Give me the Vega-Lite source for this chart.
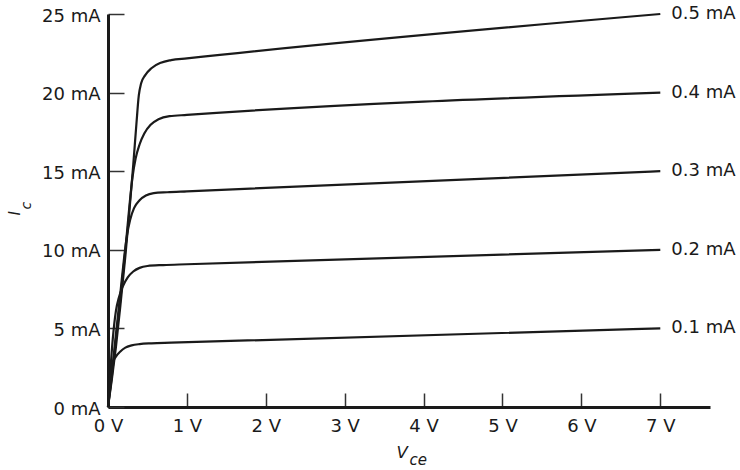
{
  "$schema": "https://vega.github.io/schema/vega-lite/v6.json",
  "width": 602,
  "height": 393,
  "autosize": {"type": "none"},
  "padding": {"left": 108, "top": 14, "right": 30, "bottom": 63},
  "background": "white",
  "config": {"view": {"stroke": null}, "font": "DejaVu Sans"},
  "datasets": {
    "curves": [
      {"ib": "0.5 mA", "v": 0, "i": 0}, {"ib": "0.5 mA", "v": 0.05, "i": 1.8}, {"ib": "0.5 mA", "v": 0.1, "i": 3.8}, {"ib": "0.5 mA", "v": 0.16, "i": 6.6}, {"ib": "0.5 mA", "v": 0.22, "i": 9.6}, {"ib": "0.5 mA", "v": 0.27, "i": 12.4}, {"ib": "0.5 mA", "v": 0.32, "i": 15.4}, {"ib": "0.5 mA", "v": 0.36, "i": 18.0}, {"ib": "0.5 mA", "v": 0.39, "i": 19.8}, {"ib": "0.5 mA", "v": 0.42, "i": 20.6}, {"ib": "0.5 mA", "v": 0.47, "i": 21.1}, {"ib": "0.5 mA", "v": 0.55, "i": 21.55}, {"ib": "0.5 mA", "v": 0.67, "i": 21.9}, {"ib": "0.5 mA", "v": 0.8, "i": 22.07}, {"ib": "0.5 mA", "v": 1.0, "i": 22.18}, {"ib": "0.5 mA", "v": 7, "i": 25},
      {"ib": "0.4 mA", "v": 0, "i": 0}, {"ib": "0.4 mA", "v": 0.05, "i": 2.0}, {"ib": "0.4 mA", "v": 0.1, "i": 4.3}, {"ib": "0.4 mA", "v": 0.16, "i": 7.0}, {"ib": "0.4 mA", "v": 0.22, "i": 10.0}, {"ib": "0.4 mA", "v": 0.27, "i": 12.7}, {"ib": "0.4 mA", "v": 0.31, "i": 14.6}, {"ib": "0.4 mA", "v": 0.35, "i": 15.8}, {"ib": "0.4 mA", "v": 0.4, "i": 16.7}, {"ib": "0.4 mA", "v": 0.46, "i": 17.4}, {"ib": "0.4 mA", "v": 0.54, "i": 17.95}, {"ib": "0.4 mA", "v": 0.64, "i": 18.3}, {"ib": "0.4 mA", "v": 0.78, "i": 18.5}, {"ib": "0.4 mA", "v": 1.0, "i": 18.58}, {"ib": "0.4 mA", "v": 7, "i": 20},
      {"ib": "0.3 mA", "v": 0, "i": 0}, {"ib": "0.3 mA", "v": 0.05, "i": 2.2}, {"ib": "0.3 mA", "v": 0.1, "i": 4.6}, {"ib": "0.3 mA", "v": 0.16, "i": 7.4}, {"ib": "0.3 mA", "v": 0.2, "i": 9.3}, {"ib": "0.3 mA", "v": 0.24, "i": 10.9}, {"ib": "0.3 mA", "v": 0.28, "i": 11.9}, {"ib": "0.3 mA", "v": 0.33, "i": 12.65}, {"ib": "0.3 mA", "v": 0.4, "i": 13.15}, {"ib": "0.3 mA", "v": 0.48, "i": 13.45}, {"ib": "0.3 mA", "v": 0.58, "i": 13.6}, {"ib": "0.3 mA", "v": 0.75, "i": 13.66}, {"ib": "0.3 mA", "v": 1.0, "i": 13.72}, {"ib": "0.3 mA", "v": 7, "i": 15},
      {"ib": "0.2 mA", "v": 0, "i": 0}, {"ib": "0.2 mA", "v": 0.03, "i": 2.3}, {"ib": "0.2 mA", "v": 0.06, "i": 4.3}, {"ib": "0.2 mA", "v": 0.1, "i": 6.1}, {"ib": "0.2 mA", "v": 0.14, "i": 7.0}, {"ib": "0.2 mA", "v": 0.19, "i": 7.7}, {"ib": "0.2 mA", "v": 0.25, "i": 8.25}, {"ib": "0.2 mA", "v": 0.32, "i": 8.62}, {"ib": "0.2 mA", "v": 0.4, "i": 8.85}, {"ib": "0.2 mA", "v": 0.5, "i": 8.97}, {"ib": "0.2 mA", "v": 0.7, "i": 9.03}, {"ib": "0.2 mA", "v": 1.0, "i": 9.08}, {"ib": "0.2 mA", "v": 7, "i": 10},
      {"ib": "0.1 mA", "v": 0, "i": 0}, {"ib": "0.1 mA", "v": 0.01, "i": 1.0}, {"ib": "0.1 mA", "v": 0.025, "i": 2.0}, {"ib": "0.1 mA", "v": 0.05, "i": 2.7}, {"ib": "0.1 mA", "v": 0.1, "i": 3.2}, {"ib": "0.1 mA", "v": 0.16, "i": 3.55}, {"ib": "0.1 mA", "v": 0.22, "i": 3.78}, {"ib": "0.1 mA", "v": 0.3, "i": 3.92}, {"ib": "0.1 mA", "v": 0.4, "i": 4.0}, {"ib": "0.1 mA", "v": 0.55, "i": 4.05}, {"ib": "0.1 mA", "v": 0.8, "i": 4.09}, {"ib": "0.1 mA", "v": 7, "i": 5}
    ],
    "ends": [
      {"ib": "0.5 mA", "v": 7, "i": 25},
      {"ib": "0.4 mA", "v": 7, "i": 20},
      {"ib": "0.3 mA", "v": 7, "i": 15},
      {"ib": "0.2 mA", "v": 7, "i": 10},
      {"ib": "0.1 mA", "v": 7, "i": 5}
    ]
  },
  "layer": [
    {
      "data": {"name": "curves"},
      "mark": {"type": "line", "interpolate": "monotone", "color": "#1a1a1a", "strokeWidth": 2.2, "clip": false},
      "encoding": {
        "x": {
          "field": "v", "type": "quantitative",
          "scale": {"domain": [0, 7.63], "nice": false, "zero": false},
          "axis": {
            "orient": "bottom", "values": [0, 1, 2, 3, 4, 5, 6, 7],
            "labelExpr": "datum.value + ' V'", "labelFontSize": 18, "labelColor": "#1a1a1a",
            "labelPadding": 24, "labelFlush": false, "labelOverlap": false,
            "tickSize": -14, "tickWidth": 1.5, "tickColor": "#333333",
            "domainWidth": 3, "domainColor": "#1a1a1a", "grid": false,
            "title": "V", "titleX": 288, "titleY": 50, "titleAlign": "left", "titleBaseline": "alphabetic",
            "titleFontSize": 16.5, "titleFontStyle": "italic", "titleFontWeight": "normal", "titleColor": "#1a1a1a"
          }
        },
        "y": {
          "field": "i", "type": "quantitative",
          "scale": {"domain": [0, 25], "nice": false},
          "axis": {
            "orient": "left", "values": [0, 5, 10, 15, 20, 25],
            "labelExpr": "datum.value + ' mA'", "labelFontSize": 18, "labelColor": "#1a1a1a",
            "labelPadding": 24, "labelOffset": 2, "labelFlush": false, "labelOverlap": false,
            "tickSize": -16, "tickWidth": 1.5, "tickColor": "#333333",
            "domainWidth": 3, "domainColor": "#1a1a1a", "grid": false,
            "title": "I", "titleX": -89, "titleY": 201, "titleAngle": 270, "titleAlign": "left", "titleBaseline": "alphabetic",
            "titleFontSize": 15, "titleFontStyle": "italic", "titleFontWeight": "normal", "titleColor": "#1a1a1a"
          }
        },
        "detail": {"field": "ib"}
      }
    },
    {
      "data": {"name": "ends"},
      "mark": {"type": "text", "align": "left", "baseline": "middle", "dx": 11, "fontSize": 18, "color": "#1a1a1a", "clip": false},
      "encoding": {
        "x": {
          "field": "v", "type": "quantitative",
          "axis": {
            "orient": "bottom", "domain": false, "ticks": false, "labels": false, "grid": false,
            "title": "ce", "titleX": 301, "titleY": 57, "titleAlign": "left", "titleBaseline": "alphabetic",
            "titleFontSize": 15, "titleFontStyle": "italic", "titleFontWeight": "normal", "titleColor": "#1a1a1a"
          }
        },
        "y": {
          "field": "i", "type": "quantitative",
          "axis": {
            "orient": "left", "domain": false, "ticks": false, "labels": false, "grid": false,
            "title": "c", "titleX": -78, "titleY": 195, "titleAngle": 270, "titleAlign": "left", "titleBaseline": "alphabetic",
            "titleFontSize": 14, "titleFontStyle": "italic", "titleFontWeight": "normal", "titleColor": "#1a1a1a"
          }
        },
        "text": {"field": "ib"}
      }
    }
  ],
  "resolve": {"axis": {"x": "independent", "y": "independent"}}
}
